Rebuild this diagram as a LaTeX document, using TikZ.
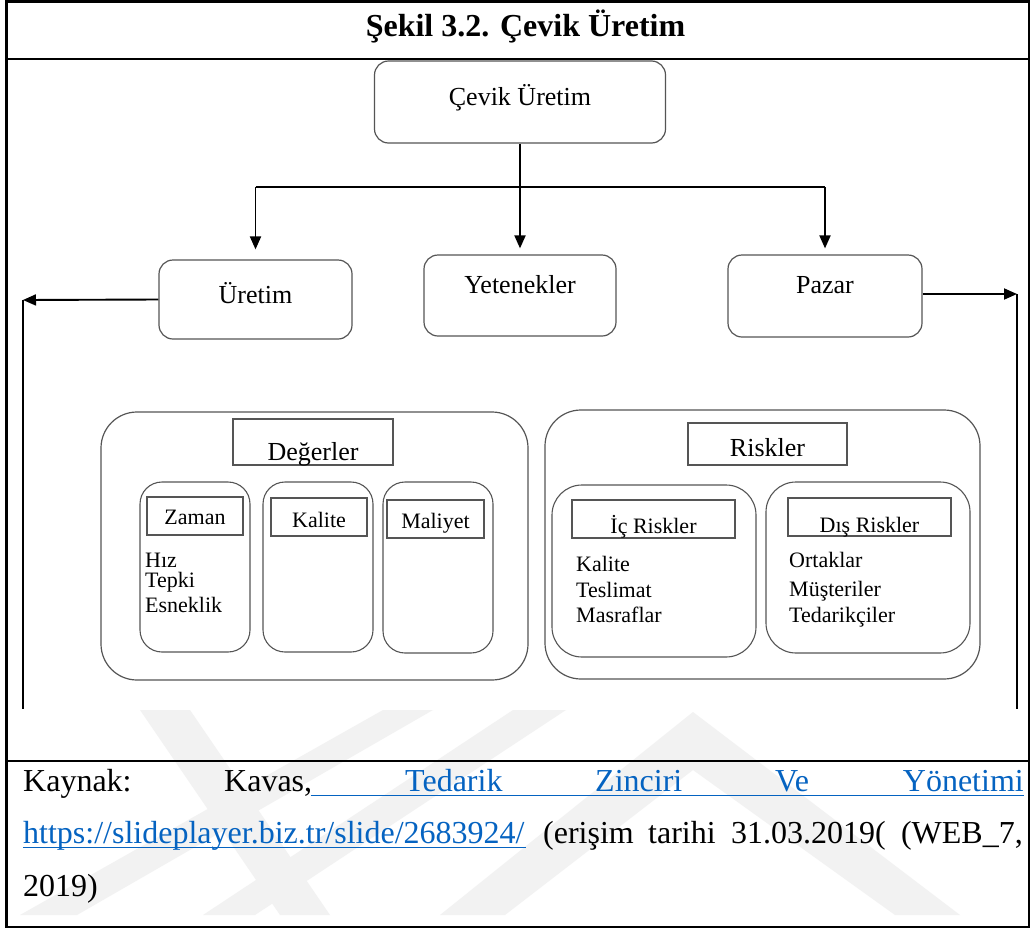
\documentclass[tikz,border=0pt]{standalone}
\usepackage{fontspec}
\setmainfont{Liberation Serif}
\usetikzlibrary{arrows.meta}
\definecolor{linkblue}{RGB}{5,99,193}
\definecolor{boxgray}{RGB}{85,85,85}
\newcommand\onbase[2]{\raisebox{#1}[0pt][0pt]{#2}}
\newcommand\bigtxt{\fontsize{26}{30}\selectfont}
\newcommand\smalltxt{\fontsize{22}{26}\selectfont}
\newcommand\foottxt{\fontsize{32}{38}\selectfont}
\tikzset{
  rbox/.style={draw=boxgray,line width=1.2pt,rounded corners=14pt,inner sep=0pt,font=\bigtxt},
  group/.style={draw=boxgray,line width=1.2pt,rounded corners=36pt,inner sep=0pt},
  col/.style={draw=boxgray,line width=1.1pt,rounded corners=22pt,inner sep=0pt},
  sbox/.style={draw=boxgray,line width=1.1pt,inner sep=0pt,font=\smalltxt},
  item/.style={anchor=base west,inner sep=0pt,font=\smalltxt},
  word/.style={anchor=base west,inner sep=0pt,font=\foottxt},
  arr/.style={line width=1.9pt,-{Triangle[length=13pt,width=11pt]}},
}
\begin{document}
\begin{tikzpicture}[x=1pt,y=-1pt]
\fill[white] (0,0) rectangle (1033,929);
\useasboundingbox (0,0) rectangle (1033,929);
% faint watermark under the source line
\begin{scope}
\clip (7,709) rectangle (1029,927);
\fill[black!5] (140,710) -- (190,710) -- (330,915) -- (280,915) -- cycle;
\fill[black!5] (383,710) -- (433,710) -- (77,915) -- (20,915) -- cycle;
\fill[black!5] (513,710) -- (566,710) -- (255,915) -- (203,915) -- cycle;
\fill[black!5] (693,712) -- (960,915) -- (895,915) -- (693,770) -- (505,915) -- (440,915) -- cycle;
\end{scope}
% frame
\draw[line width=2.6pt] (6.5,1.5) rectangle (1029,927);
\draw[line width=2.6pt] (6.5,59) -- (1029,59);
\draw[line width=2.6pt] (6.5,761) -- (1029,761);
\node[anchor=base,inner sep=0pt,font=\bfseries\foottxt] (title) at (525.5,36) {Şekil 3.2. Çevik Üretim};
% top level
\node[rbox,minimum width=291pt,minimum height=82pt] (cevik) at (520,102) {\onbase{-3pt}{Çevik Üretim}};
\node[rbox,minimum width=193pt,minimum height=79pt] (uretim) at (255.5,299.5) {\onbase{-3.5pt}{Üretim}};
\node[rbox,minimum width=192pt,minimum height=81pt] (yetenek) at (520,295.5) {\onbase{2.5pt}{Yetenekler}};
\node[rbox,minimum width=194pt,minimum height=82pt] (pazar) at (825,296) {\onbase{3pt}{Pazar}};
\coordinate (bus) at (520,187);
\draw[line width=1.9pt] (cevik.south) -- (bus);
\draw[line width=1.9pt] (uretim.north |- bus) -- (pazar.north |- bus);
\draw[arr,shorten >=10pt] (uretim.north |- bus) -- (uretim.north);
\draw[arr,shorten >=6pt] (bus) -- (yetenek.north);
\draw[arr,shorten >=6pt] (pazar.north |- bus) -- (pazar.north);
\coordinate (lend) at (23,300);
\coordinate (lbot) at (23,709);
\coordinate (rend) at (1017,294);
\coordinate (rbot) at (1017,709);
\draw[arr] (uretim.west) -- (lend);
\draw[line width=1.3pt] (lend) -- (lbot);
\draw[arr] (pazar.east |- rend) -- (rend);
\draw[line width=1.3pt] (rend) -- (rbot);
% values
\node[group,minimum width=427pt,minimum height=268pt] (degerler) at (314.5,546) {};
\node[sbox,font=\bigtxt,minimum width=160pt,minimum height=46pt] (deglbl) at (313,442) {\onbase{-18pt}{Değerler}};
\node[col,minimum width=110pt,minimum height=170pt] (zamancol) at (195,567) {};
\node[col,minimum width=110pt,minimum height=170pt] (kalitecol) at (318,567) {};
\node[col,minimum width=110pt,minimum height=171pt] (maliyetcol) at (438,567.5) {};
\node[sbox,minimum width=96pt,minimum height=38pt] (zaman) at (195,516) {\onbase{-8pt}{Zaman}};
\node[sbox,minimum width=96pt,minimum height=38pt] (kalite) at (319,517) {\onbase{-10pt}{Kalite}};
\node[sbox,minimum width=97pt,minimum height=38pt] (maliyet) at (435.5,519) {\onbase{-9pt}{Maliyet}};
\foreach \t/\y/\n in {Hız/567/hiz,Tepki/587/tepki,Esneklik/612/esneklik}
  \node[item] (\n) at (145,\y) {\t};
% risks
\node[group,minimum width=435pt,minimum height=269pt] (riskler) at (762.5,544.5) {};
\node[sbox,font=\bigtxt,minimum width=159pt,minimum height=42pt] (risklbl) at (767.5,444) {\onbase{-12pt}{Riskler}};
\node[col,rounded corners=30pt,minimum width=204pt,minimum height=172pt] (iccol) at (654,571) {};
\node[col,rounded corners=30pt,minimum width=204pt,minimum height=171pt] (discol) at (868,567.5) {};
\node[sbox,minimum width=163pt,minimum height=38pt] (ic) at (653.5,519) {\onbase{-14pt}{İç Riskler}};
\node[sbox,minimum width=163pt,minimum height=38pt] (dis) at (869.5,517) {\onbase{-15pt}{Dış Riskler}};
\foreach \t/\y/\n in {Kalite/571/ikalite,Teslimat/597/teslimat,Masraflar/622/masraflar}
  \node[item] (\n) at (576,\y) {\t};
\foreach \t/\y/\n in {Ortaklar/567/ortaklar,Müşteriler/596/musteriler,Tedarikçiler/622/tedarikci}
  \node[item] (\n) at (789,\y) {\t};
% source
\node[word] (kaynak) at (23,791) {Kaynak:};
\node[word] (kavas) at (224,791) {Kavas,};
\node[word,text=linkblue] (tedarik) at (405,791) {Tedarik};
\node[word,text=linkblue] (zincir) at (595,791) {Zinciri};
\node[word,text=linkblue] (ve) at (775,791) {Ve};
\node[word,text=linkblue,anchor=base east] (yonetim) at (1024,791) {Yönetimi};
\draw[linkblue,line width=1.8pt] (310.5,795.5) -- (1024,795.5);
\node[word,text=linkblue] (url) at (23,843) {https://slideplayer.biz.tr/slide/2683924/};
\draw[linkblue,line width=1.8pt] (url.base west) ++(0,4.5) -- ++(503,0);
\node[word] (erisim) at (543,843) {(erişim};
\node[word] (tarihi) at (648,843) {tarihi};
\node[word] (tarih) at (731,843) {31.03.2019(};
\node[word,anchor=base east] (web) at (1023,843) {(WEB\_7,};
\node[word] (yil) at (23,896) {2019)};
\end{tikzpicture}
\end{document}
